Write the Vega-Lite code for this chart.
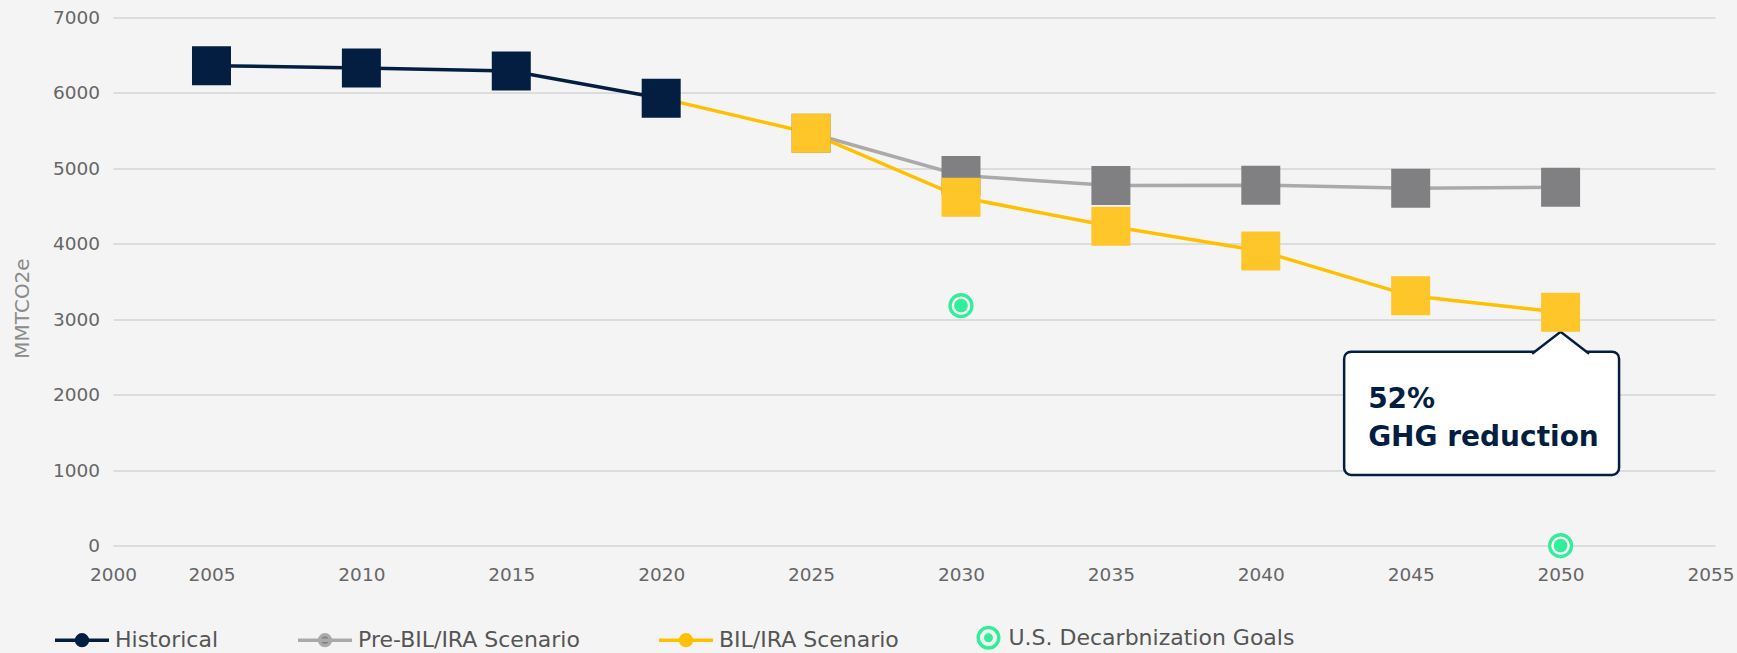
{
  "$schema": "https://vega.github.io/schema/vega-lite/v6.json",
  "width": 1602,
  "height": 528.3,
  "autosize": {"type": "none"},
  "padding": {"left": 113, "top": 17.4, "right": 22, "bottom": 107.3},
  "background": "#f4f4f4",
  "config": {"view": {"stroke": null}, "font": "DejaVu Sans"},
  "data": {"values": [
    {"series": "Historical", "year": 2005, "value": 6360},
    {"series": "Historical", "year": 2010, "value": 6330},
    {"series": "Historical", "year": 2015, "value": 6290},
    {"series": "Historical", "year": 2020, "value": 5930},
    {"series": "Pre-BIL/IRA Scenario", "year": 2025, "value": 5465},
    {"series": "Pre-BIL/IRA Scenario", "year": 2030, "value": 4905},
    {"series": "Pre-BIL/IRA Scenario", "year": 2035, "value": 4773},
    {"series": "Pre-BIL/IRA Scenario", "year": 2040, "value": 4777},
    {"series": "Pre-BIL/IRA Scenario", "year": 2045, "value": 4736},
    {"series": "Pre-BIL/IRA Scenario", "year": 2050, "value": 4750},
    {"series": "BIL/IRA Scenario", "year": 2020, "value": 5930},
    {"series": "BIL/IRA Scenario", "year": 2025, "value": 5465},
    {"series": "BIL/IRA Scenario", "year": 2030, "value": 4616},
    {"series": "BIL/IRA Scenario", "year": 2035, "value": 4232},
    {"series": "BIL/IRA Scenario", "year": 2040, "value": 3905},
    {"series": "BIL/IRA Scenario", "year": 2045, "value": 3311},
    {"series": "BIL/IRA Scenario", "year": 2050, "value": 3094},
    {"series": "U.S. Decarbnization Goals", "year": 2030, "value": 3180},
    {"series": "U.S. Decarbnization Goals", "year": 2050, "value": 0}
  ]},
  "encoding": {
    "x": {
      "field": "year", "type": "quantitative",
      "scale": {"domain": [2001.715, 2055.15], "clamp": true, "nice": false, "zero": false},
      "axis": {
        "values": [2000, 2005, 2010, 2015, 2020, 2025, 2030, 2035, 2040, 2045, 2050, 2055],
        "format": "d", "title": null, "grid": false, "domain": false, "ticks": false,
        "labelFontSize": 18.5, "labelColor": "#666666", "labelPadding": 20,
        "labelFlush": false, "labelOverlap": false, "labelBound": false,
        "encode": {"labels": {"update": {"dx": {"signal": "datum.value === 2000 ? 5 : datum.value === 2005 ? 15 : 0"}}}}
      }
    },
    "y": {
      "field": "value", "type": "quantitative",
      "scale": {"domain": [0, 7000], "nice": false},
      "axis": {
        "values": [0, 1000, 2000, 3000, 4000, 5000, 6000, 7000],
        "format": "d", "title": "MMTCO2e", "grid": true, "gridColor": "#dcdcdc", "gridWidth": 2,
        "domain": false, "ticks": false,
        "labelFontSize": 18.5, "labelColor": "#666666", "labelPadding": 13.5,
        "titleFontSize": 20, "titleFontWeight": "normal", "titleColor": "#8a8a8a",
        "titleX": -85, "titleY": 290.6, "titleAngle": 270, "titleAlign": "center", "titleBaseline": "alphabetic"
      }
    }
  },
  "layer": [
    {
      "transform": [{"filter": "datum.series !== 'U.S. Decarbnization Goals'"}],
      "mark": {"type": "line", "strokeWidth": 3.5},
      "encoding": {
        "color": {
          "field": "series", "type": "nominal",
          "scale": {
            "domain": ["Historical", "Pre-BIL/IRA Scenario", "BIL/IRA Scenario", "U.S. Decarbnization Goals"],
            "range": ["#041e42", "#aaaaaa", "#ffc000", "#33ee99"]
          },
          "legend": {
            "orient": "none", "legendX": -60, "legendY": 591, "direction": "horizontal",
            "title": null, "labelFontSize": 22, "labelColor": "#555555", "labelFont": "DejaVu Sans", "labelLimit": 500,
            "symbolSize": 2916, "symbolStrokeWidth": 3.5, "labelOffset": 4, "columnPadding": 72, "padding": 0,
            "encode": {
              "symbols": {"update": {
                "shape": {"signal": "datum.value === 'U.S. Decarbnization Goals' ? 'M-1.51,0A0.38,0.38,0,1,1,-0.75,0A0.38,0.38,0,1,1,-1.51,0ZM-1.51,0A0.38,0.38,0,1,0,-0.75,0A0.38,0.38,0,1,0,-1.51,0ZM-1.23,0A0.1,0.1,0,1,1,-1.03,0A0.1,0.1,0,1,1,-1.23,0Z' : 'M-1,0L1,0M-0.2,0A0.2,0.2,0,1,1,0.2,0A0.2,0.2,0,1,1,-0.2,0Z'"},
                "fill": {"scale": "color", "field": "value"},
                "stroke": {"scale": "color", "field": "value"},
                "strokeWidth": {"value": 3.5},
                "opacity": {"value": 1}
              }},
              "labels": {"update": {"dx": {"signal": "datum.value === 'U.S. Decarbnization Goals' ? -43.5 : 0"}}}
            }
          }
        }
      }
    },
    {
      "transform": [{"filter": "datum.series === 'BIL/IRA Scenario' && datum.year === 2050"}],
      "mark": {"type": "rect", "fill": "#ffffff", "stroke": "#041e42", "strokeWidth": 2.5, "cornerRadius": 7},
      "encoding": {
        "x": {"datum": 2042.78, "type": "quantitative"},
        "x2": {"datum": 2051.95},
        "y": {"datum": 2571, "type": "quantitative"},
        "y2": {"datum": 937}
      }
    },
    {
      "transform": [{"filter": "datum.series === 'BIL/IRA Scenario' && datum.year === 2050"}],
      "mark": {"type": "point", "shape": "M-1,0.42L0,-0.35L1,0.42", "size": 3249, "filled": true, "fill": "#ffffff", "stroke": "#041e42", "strokeWidth": 2.5, "opacity": 1},
      "encoding": {
        "y": {"datum": 2703, "type": "quantitative"}
      }
    },
    {
      "transform": [{"filter": "datum.series === 'BIL/IRA Scenario' && datum.year === 2050"}],
      "mark": {"type": "text", "text": ["52%", "GHG reduction"], "align": "left", "baseline": "alphabetic", "font": "DejaVu Sans", "fontWeight": "bold", "fontSize": 28, "lineHeight": 37.7, "fill": "#041e42"},
      "encoding": {
        "x": {"datum": 2043.58, "type": "quantitative"},
        "y": {"datum": 1825, "type": "quantitative"}
      }
    },
    {
      "transform": [
        {"filter": "datum.series !== 'U.S. Decarbnization Goals'"},
        {"filter": "!(datum.series === 'BIL/IRA Scenario' && datum.year === 2020)"}
      ],
      "mark": {"type": "point", "shape": "square", "size": 1521, "filled": true, "opacity": 1, "strokeWidth": 0},
      "encoding": {
        "fill": {
          "field": "series", "type": "nominal",
          "scale": {
            "domain": ["Historical", "Pre-BIL/IRA Scenario", "BIL/IRA Scenario", "U.S. Decarbnization Goals"],
            "range": ["#041e42", "#808083", "#ffc629", "#33ee99"]
          },
          "legend": null
        }
      }
    },
    {
      "transform": [{"filter": "datum.series === 'U.S. Decarbnization Goals'"}],
      "mark": {"type": "point", "shape": "circle", "size": 479, "filled": false, "fill": "#ffffff", "stroke": "#33ee99", "strokeWidth": 3.3, "opacity": 1}
    },
    {
      "transform": [{"filter": "datum.series === 'U.S. Decarbnization Goals'"}],
      "mark": {"type": "point", "shape": "circle", "size": 190, "filled": true, "fill": "#33ee99", "strokeWidth": 0, "opacity": 1}
    }
  ]
}
